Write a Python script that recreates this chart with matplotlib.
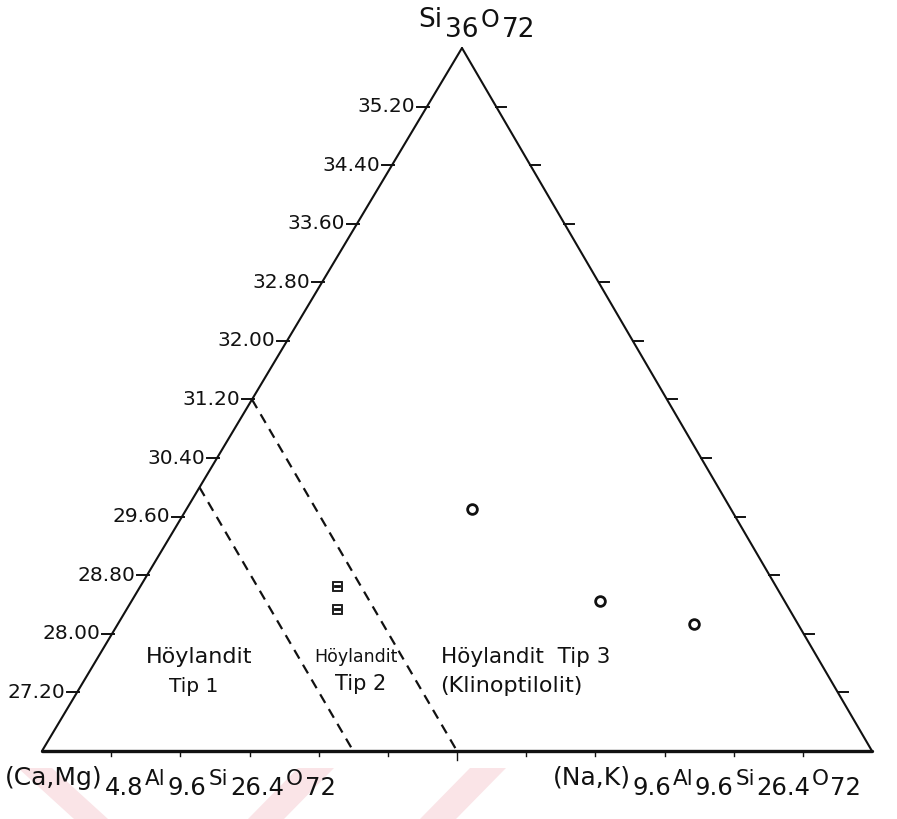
import matplotlib
matplotlib.use("Agg")
import matplotlib.pyplot as plt
from matplotlib.patches import Polygon

# Compositions as fractions of the three end-members
# (top: Si36O72, left: (Ca,Mg) member, right: (Na,K) member)
sample_top = [0.344, 0.213, 0.181]
sample_right = [0.344, 0.564, 0.694]

type2_top = [0.235, 0.202]
type2_right = [0.237, 0.253]

# Heulandite type boundaries: constant (Ca,Mg) end-member fraction
boundary_left = [0.625, 0.5]

# Si scale on the left edge
SI_MIN, SI_MAX = 26.40, 36.00
si_ticks = [27.20, 28.00, 28.80, 29.60, 30.40, 31.20, 32.00, 32.80, 33.60, 34.40, 35.20]
n_base_ticks = 12

H = 703 / 830      # triangle height
APEX_X = 0.506     # apex position along the base


def tern(top, right):
    return right + APEX_X * top, H * top


W, HH = 897, 819
fig = plt.figure(figsize=(W / 100, HH / 100), dpi=100)
ax = fig.add_axes([0, 0, 1, 1])
ax.set_xlim(-42 / 830, (W - 42) / 830)
ax.set_ylim(-68 / 830, (HH - 68) / 830)
ax.set_aspect("equal")
ax.set_axis_off()

ink = "#111111"


def px(xp, yp):
    return (xp - 42) / 830, (751 - yp) / 830


# faint stamp bands along the lower margin
for band in [[(18, 768), (52, 768), (108, 819), (74, 819)],
             [(298, 768), (334, 768), (284, 819), (248, 819)],
             [(470, 768), (506, 768), (456, 819), (420, 819)]]:
    ax.add_patch(Polygon([px(*p) for p in band], closed=True, facecolor="#fae4e7",
                         edgecolor="none", zorder=0))

# triangle frame
for (t0, r0), (t1, r1), lw in [((0, 0), (1, 0), 1.5), ((1, 0), (0, 1), 1.5), ((0, 0), (0, 1), 2.4)]:
    x0, y0 = tern(t0, r0)
    x1, y1 = tern(t1, r1)
    ax.plot([x0, x1], [y0, y1], color=ink, lw=lw, solid_capstyle="round")

# left edge ticks and labels, right edge ticks
tick_len = 10 / 830
for s in si_ticks:
    t = (s - SI_MIN) / (SI_MAX - SI_MIN)
    xl, yl = tern(t, 0)
    ax.plot([xl - tick_len, xl + 2 / 830], [yl, yl], color=ink, lw=1.4)
    ax.text(xl - tick_len - 2 / 830, yl, f"{s:.2f}", ha="right", va="center",
            fontsize=14.5, color=ink)
    xr, yr = tern(t, 1 - t)
    ax.plot([xr, xr + tick_len], [yr, yr], color=ink, lw=1.4)

# base ticks
for i in range(1, n_base_ticks):
    r = i / n_base_ticks
    xb, yb = tern(0, r)
    ln = 9 / 830 if i == n_base_ticks // 2 else 5 / 830
    ax.plot([xb, xb], [yb, yb - ln], color=ink, lw=1.0)

# type boundaries
for lf in boundary_left:
    x0, y0 = tern(1 - lf, 0)
    x1, y1 = tern(0, 1 - lf)
    ax.plot([x0, x1], [y0, y1], color=ink, lw=1.6, ls=(0, (4.5, 3.2)))

# samples
for t, r in zip(sample_top, sample_right):
    x, y = tern(t, r)
    ax.plot(x, y, marker="o", ms=7, mfc="white", mec=ink, mew=2.0)

for t, r in zip(type2_top, type2_right):
    x, y = tern(t, r)
    ax.plot(x, y, marker="$\u229f$", ms=7, color=ink, mew=0.6)

# field labels
lab = dict(color=ink, va="center")
ax.text(*px(199, 657), "Höylandit", ha="center", fontsize=16, **lab)
ax.text(*px(194, 686), "Tip 1", ha="center", fontsize=14.5, **lab)
ax.text(*px(356, 657), "Höylandit", ha="center", fontsize=12.5, **lab)
ax.text(*px(361, 684), "Tip 2", ha="center", fontsize=15, **lab)
ax.text(*px(441, 657), "Höylandit  Tip 3", ha="left", fontsize=15.5, **lab)
ax.text(*px(440, 686), "(Klinoptilolit)", ha="left", fontsize=16, **lab)

# vertex formulas drawn piece by piece with lowered subscripts
renderer = fig.canvas.get_renderer()


def formula(xp, yp, parts, drop=10, gap=1.0):
    x, y = px(xp, yp)
    off = 0.0
    for text, low, size in parts:
        a = ax.annotate(text, xy=(x, y), xycoords="data",
                        xytext=(off, -drop if low else 0), textcoords="offset pixels",
                        ha="left", va="baseline", fontsize=size, color=ink)
        off += a.get_window_extent(renderer).width + gap


formula(418, 27, [("Si", False, 19), ("36", True, 19), ("O", False, 17), ("72", True, 19)],
        gap=2.5)
formula(5, 785, [("(Ca,Mg)", False, 18), ("4.8", True, 17.5), ("Al", False, 15.5),
                 ("9.6", True, 17.5), ("Si", False, 15.5), ("26.4", True, 17.5),
                 ("O", False, 15.5), ("72", True, 17.5)], gap=2.0)
formula(553, 785, [("(Na,K)", False, 18), ("9.6", True, 17.5), ("Al", False, 15.5),
                   ("9.6", True, 17.5), ("Si", False, 15.5), ("26.4", True, 17.5),
                   ("O", False, 15.5), ("72", True, 17.5)], gap=1.5)

fig.savefig("out.png", dpi=100, facecolor="white")
